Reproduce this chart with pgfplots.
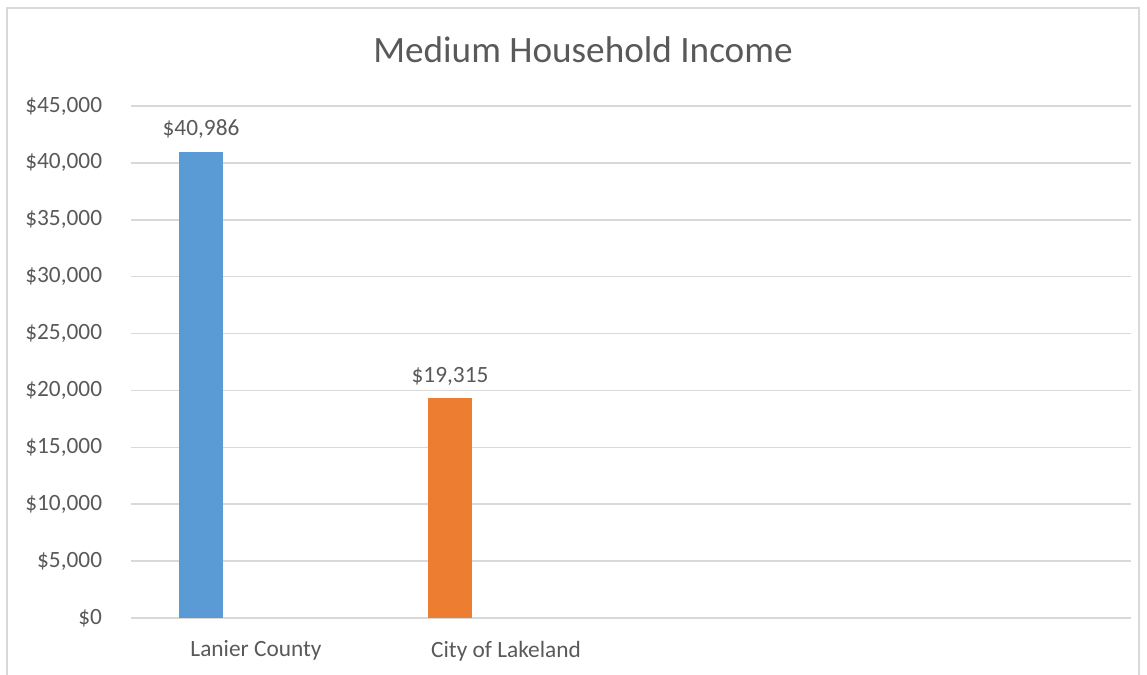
\documentclass[border=0pt]{standalone}
\usepackage{pgfplots}
\pgfplotsset{compat=1.18}
\usepackage{fontspec}
\setmainfont{Carlito}
\definecolor{txt}{HTML}{595959}
\definecolor{grid}{HTML}{D9D9D9}
\definecolor{cblue}{HTML}{5B9BD5}
\definecolor{corange}{HTML}{ED7D31}
\begin{document}
\begin{tikzpicture}
\begin{scope}[x=0.75pt,y=0.75pt]
\path[use as bounding box] (0,0) rectangle (1147,675);
\draw[grid,line width=1.5pt] (7,0) -- (7,667) -- (1139,667) -- (1139,0);
\node[anchor=base,text=txt,font=\fontsize{27.9}{33}\selectfont] at (583,612) {Medium Household Income};
\end{scope}
\begin{axis}[
  at={(98.25pt,42.75pt)}, anchor=south west,
  scale only axis, width=750pt, height=384pt,
  xmin=0, xmax=1000, ymin=0, ymax=45000,
  ytick={0,5000,...,45000},
  scaled y ticks=false,
  xtick={125,375}, xticklabels={Lanier County, City of Lakeland},
  major tick length=0pt,
  axis line style={draw=none},
  xmajorgrids=false, ymajorgrids=true,
  y grid style={grid, line width=1.1pt},
  /pgf/number format/.cd, assume math mode=true, 1000 sep={,}, fixed, precision=0,
  /pgfplots/.cd,
  yticklabel={\$\pgfmathprintnumber{\tick}},
  ticklabel style={text=txt, font=\fontsize{17.5}{21}\selectfont},
  yticklabel style={inner sep=0pt, anchor=east, xshift=-21.5pt},
  xticklabel style={inner sep=0pt, anchor=north, yshift=-17pt},
  ybar, bar width=33pt, bar shift=0pt,
  nodes near coords={\$\pgfmathprintnumber{\pgfplotspointmeta}},
  nodes near coords style={text=txt, font=\fontsize{17.5}{21}\selectfont, anchor=base, inner sep=0pt, yshift=12pt},
]
\addplot[fill=cblue, draw=none] coordinates {(70,40986)};
\addplot[fill=corange, draw=none] coordinates {(319,19315)};
\end{axis}
\end{tikzpicture}
\end{document}
